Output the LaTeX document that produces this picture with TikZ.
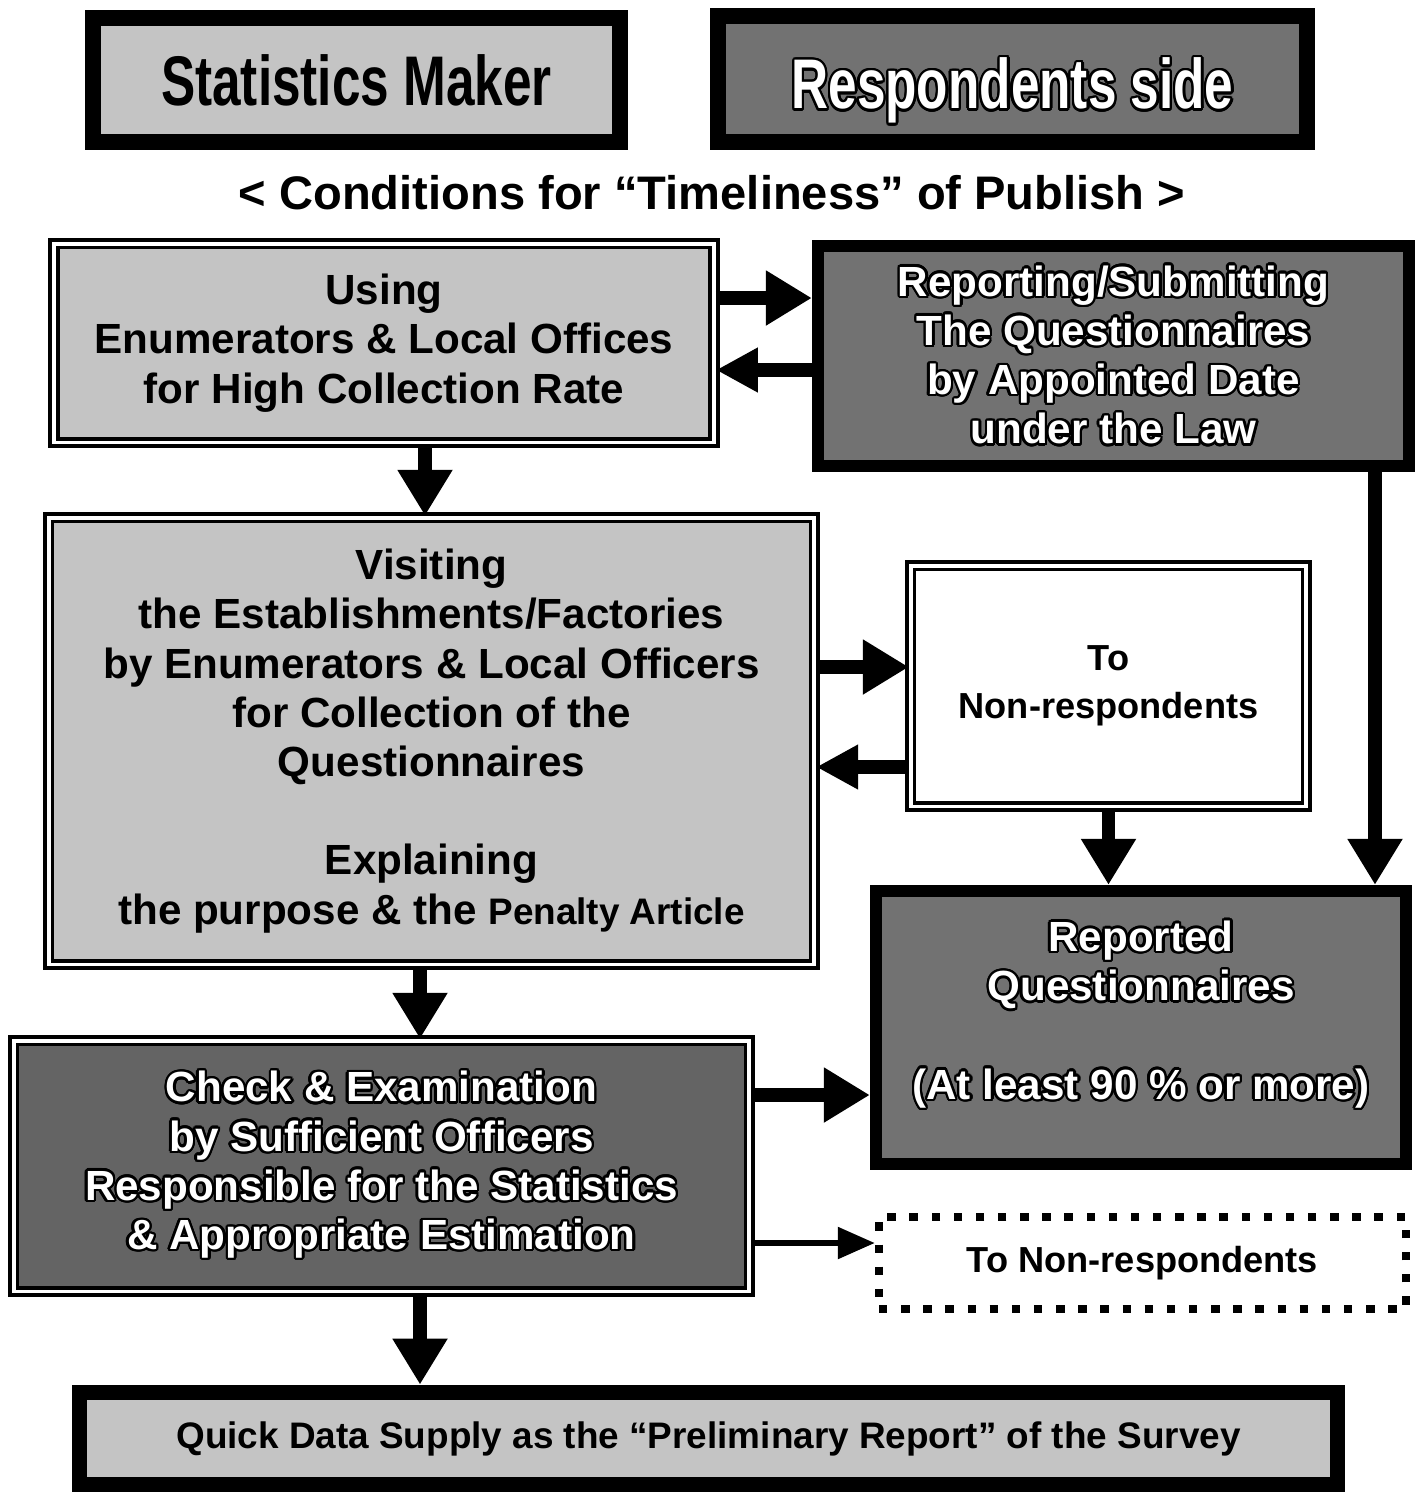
\documentclass[tikz,border=0pt]{standalone}
\usepackage{fontspec}
\setmainfont{Liberation Sans}
\newfontfamily\narrowsans[FakeStretch=0.73]{Liberation Sans}
\usepackage[copies]{contour}
\contourlength{0.7pt}
\contournumber{20}
\usepackage{tikz}
\usetikzlibrary{arrows.meta,positioning}
\definecolor{lightfill}{RGB}{196,196,196}
\definecolor{darkfill}{RGB}{114,114,114}
\definecolor{darkerfill}{RGB}{100,100,100}
\newcommand{\wl}[1]{\contour{black}{#1}}

\begin{document}
\begin{tikzpicture}[
  hdrbox/.style={rectangle, draw=black, line width=4.5pt,
    font=\narrowsans\bfseries\fontsize{20}{24}\selectfont},
  dblbox/.style={rectangle, draw=black, line width=1.1pt,
    double=white, double distance=1pt, fill=lightfill,
    align=center, font=\bfseries\fontsize{12}{14}\selectfont},
  darkbox/.style={rectangle, draw=black, line width=3.5pt,
    fill=darkfill, text=white,
    align=center, font=\bfseries\fontsize{12}{14}\selectfont},
  notebox/.style={rectangle, align=center,
    font=\bfseries\fontsize{10.3}{13.8}\selectfont},
  arr/.style={-{Triangle[length=4.6mm,width=5.2mm]}, line width=3.8pt},
  backarr/.style={-{Triangle[length=4.2mm,width=4.2mm]}, line width=3.8pt},
  thinarr/.style={-{Triangle[length=3.7mm,width=3.1mm]}, line width=1.6pt}
]
\useasboundingbox (0,0) rectangle (14.2,-14.94);
% headers
\node[hdrbox, fill=lightfill, minimum width=5.27cm, minimum height=1.24cm]
  (maker) at (3.565,-0.80) {Statistics Maker};
\node[hdrbox, fill=darkfill, text=white, text height=17pt, text depth=0pt,
  minimum width=5.89cm, minimum height=1.26cm]
  (resp) at (10.125,-0.79) {\wl{Respondents side}};
\node[font=\bfseries\fontsize{13.4}{16}\selectfont]
  (title) at (7.12,-1.93) {< Conditions for “Timeliness” of Publish >};
% upper row
\node[dblbox, minimum width=6.60cm, minimum height=1.985cm] (using) at (3.84,-3.43)
  {Using\\Enumerators \& Local Offices\\for High Collection Rate};
\node[darkbox, minimum width=5.91cm, minimum height=2.20cm] (report) at (11.135,-3.56)
  {\wl{Reporting/Submitting}\\\wl{The Questionnaires}\\\wl{by Appointed Date}\\\wl{under the Law}};
% middle row
\node[dblbox, minimum width=7.655cm, minimum height=4.465cm] (visit) at (4.315,-7.41)
  {Visiting\\the Establishments/Factories\\by Enumerators \& Local Officers\\
   for Collection of the\\Questionnaires\\[14pt]Explaining\\
   the purpose \& the {\fontsize{10.5}{14}\selectfont Penalty Article}};
\node[dblbox, fill=white, minimum width=3.955cm, minimum height=2.405cm,
  font=\bfseries\fontsize{10.3}{13.8}\selectfont] (nonresp) at (11.085,-6.86)
  {To\\Non-respondents};
\node[darkbox, minimum width=5.30cm, minimum height=2.73cm] (reported) at (11.41,-10.275)
  {\wl{Reported}\\\wl{Questionnaires}\\[14pt]\wl{(At least 90 \% or more)}\\[-4pt]\mbox{}};
% lower row
\node[dblbox, fill=darkerfill, text=white, minimum width=7.355cm, minimum height=2.505cm]
  (check) at (3.815,-11.66)
  {\wl{Check \& Examination}\\\wl{by Sufficient Officers}\\
   \wl{Responsible for the Statistics}\\\wl{\& Appropriate Estimation}};
\node[notebox, draw=black, line width=2.4pt, dash pattern=on 2.4pt off 3.9pt,
  minimum width=5.27cm, minimum height=0.92cm] (nonresp2) at (11.425,-12.63)
  {To Non-respondents};
\node[hdrbox, fill=lightfill, minimum width=12.58cm, minimum height=0.92cm,
  font=\bfseries\fontsize{10.5}{13}\selectfont] (quick) at (7.085,-14.385)
  {Quick Data Supply as the “Preliminary Report” of the Survey};
% connectors
\draw[arr] ([yshift=4.5mm]using.east) -- ([yshift=4.5mm]using.east -| report.west);
\draw[backarr] ([yshift=-2.7mm]using.east -| report.west) -- ([yshift=-2.7mm]using.east);
\draw[arr] ([xshift=4.1mm]using.south) -- ([xshift=4.1mm]using.south |- visit.north);
\draw[arr] ([yshift=7.4mm]visit.east) -- ([yshift=7.4mm]visit.east -| nonresp.west);
\draw[backarr] ([yshift=-2.6mm]visit.east -| nonresp.west) -- ([yshift=-2.6mm]visit.east);
\draw[arr] (nonresp.south) -- (nonresp.south |- reported.north);
\draw[arr] ([xshift=26.15mm]report.south) -- ([xshift=26.15mm]report.south |- reported.north);
\draw[arr] ([xshift=-1.15mm]visit.south) -- ([xshift=-1.15mm]visit.south |- check.north);
\draw[arr] ([yshift=7.1mm]check.east) -- ([yshift=7.1mm]check.east -| reported.west);
\draw[thinarr] ([yshift=-7.7mm]check.east) -- ([yshift=-7.7mm]check.east -| nonresp2.west);
\draw[arr] ([xshift=3.85mm]check.south) -- ([xshift=3.85mm]check.south |- quick.north);
\end{tikzpicture}
\end{document}
